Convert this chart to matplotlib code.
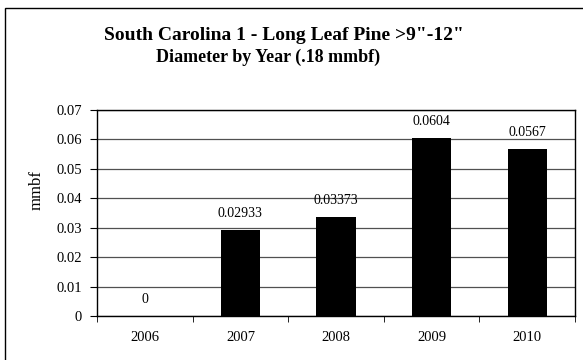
import matplotlib
matplotlib.use("Agg")
import matplotlib.pyplot as plt
from matplotlib.patches import Rectangle

years = ["2006", "2007", "2008", "2009", "2010"]
values = [0, 0.02933, 0.03373, 0.0604, 0.0567]
labels = ["0", "0.02933", "0.03373", "0.0604", "0.0567"]
title_line1 = "South Carolina 1 - Long Leaf Pine >9\"-12\""
title_line2 = "Diameter by Year (.18 mmbf)"

plt.rcParams['font.family'] = ['Liberation Serif', 'DejaVu Serif']
W, H = 583, 360
fig = plt.figure(figsize=(W/100, H/100), dpi=100)
ax = fig.add_axes([97/W, 1-316/H, (575-97)/W, (316-110)/H])

x = list(range(len(years)))
ax.bar(x, values, width=0.41, color='black', zorder=3)
for xi, v, lab in zip(x, values, labels):
    ax.annotate(lab, (xi, v), xytext=(0, 12), textcoords='offset points',
                ha='center', va='center', fontsize=10)

ax.set_xlim(-0.5, len(years)-0.5)
ax.set_ylim(0, 0.07)
ax.set_yticks([0, 0.01, 0.02, 0.03, 0.04, 0.05, 0.06, 0.07])
ax.set_yticklabels(["0", "0.01", "0.02", "0.03", "0.04", "0.05", "0.06", "0.07"], fontsize=10.5)
ax.set_xticks(x)
ax.set_xticklabels(years, fontsize=10.5)
ax.tick_params(axis='x', length=0, pad=11)
ax.set_xticks([i - 0.5 for i in range(len(years)+1)], minor=True)
ax.tick_params(axis='x', which='minor', length=4, direction='out')
ax.tick_params(axis='y', length=5, direction='out', pad=6)
ax.yaxis.grid(True, color='#505050', linewidth=0.9, zorder=0)
for s in ax.spines.values():
    s.set_linewidth(1.0)

fig.text(37/W, 1-190/H, "mmbf", rotation=90, ha='center', va='center', fontsize=12)

fig.text(284/W, 1-35/H, title_line1, ha='center', va='center', fontsize=14, fontweight='bold')
fig.text(268/W, 1-57/H, title_line2, ha='center', va='center', fontsize=13, fontweight='bold')

fig.patches.append(Rectangle((4.5/W, -0.05), 1.1, 1-8/H+0.05, transform=fig.transFigure,
                             fill=False, edgecolor='black', linewidth=1.0))

fig.savefig("out.png", dpi=100)
